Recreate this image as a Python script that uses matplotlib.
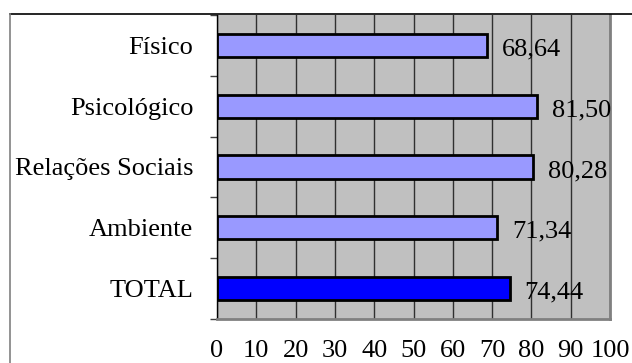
import matplotlib
matplotlib.use("Agg")
import matplotlib.pyplot as plt
from matplotlib.lines import Line2D

categories = ["Físico", "Psicológico", "Relações Sociais", "Ambiente", "TOTAL"]
values = [68.64, 81.50, 80.28, 71.34, 74.44]
value_labels = ["68,64", "81,50", "80,28", "71,34", "74,44"]
bar_colors = ["#9999FF", "#9999FF", "#9999FF", "#9999FF", "#0000FF"]
x_ticks = [0, 10, 20, 30, 40, 50, 60, 70, 80, 90, 100]

plt.rcParams['font.family'] = ['Liberation Serif', 'DejaVu Serif']
FS = 19

fig = plt.figure(figsize=(6.32, 3.63), dpi=100)
ax = fig.add_axes([217 / 632, 44 / 363, 393 / 632, 304 / 363])
ax.set_facecolor("#C0C0C0")

ypos = list(range(len(categories)))
ax.barh(ypos, values, height=0.38, color=bar_colors, edgecolor="black",
        linewidth=2, zorder=3)

for y, v, lab in zip(ypos, values, value_labels):
    ax.annotate(lab, (v, y), xytext=(15, -4), textcoords="offset pixels",
                ha="left", va="center", fontsize=FS, zorder=4)

ax.set_xlim(0, 100)
ax.set_ylim(len(categories) - 0.5, -0.5)
ax.set_xticks(x_ticks)
ax.set_xticklabels([str(t) for t in x_ticks], fontsize=FS)
ax.tick_params(axis="x", length=0, pad=15)

ax.set_yticks(ypos)
ax.set_yticklabels(categories, fontsize=FS)
ax.tick_params(axis="y", which="major", length=0, pad=17)
ax.set_yticks([y + 0.5 for y in ypos[:-1]] + [-0.5, len(categories) - 0.5], minor=True)
ax.tick_params(axis="y", which="minor", length=5, width=1, color="#404040")

ax.xaxis.grid(True, color="#303030", linewidth=1)
ax.set_axisbelow(True)

ax.spines["left"].set_color("black")
ax.spines["left"].set_linewidth(1)
ax.spines["top"].set_visible(False)
ax.spines["right"].set_color("#808080")
ax.spines["right"].set_linewidth(2)
ax.spines["bottom"].set_color("#808080")
ax.spines["bottom"].set_linewidth(2)

# outer chart frame
fig.add_artist(Line2D([10 / 632, 1], [1 - 14 / 363, 1 - 14 / 363],
                      transform=fig.transFigure, color="black", linewidth=1.2))
fig.add_artist(Line2D([10 / 632, 10 / 632], [0, 1 - 14 / 363],
                      transform=fig.transFigure, color="#808080", linewidth=1.2))

fig.savefig("out.png", dpi=100)
